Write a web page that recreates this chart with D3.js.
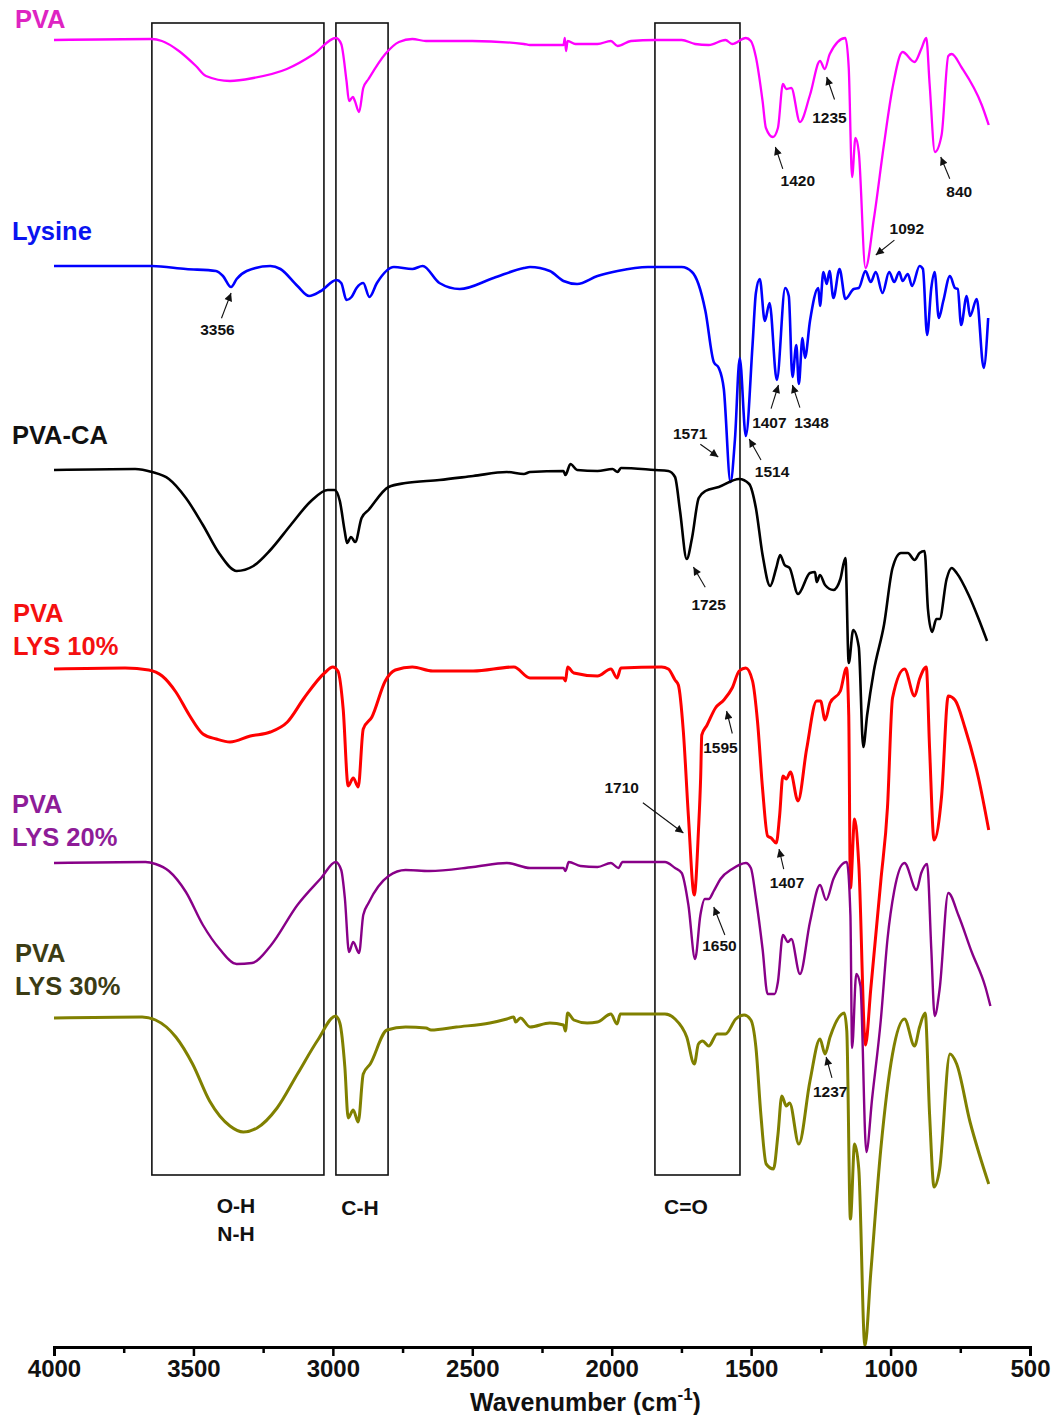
<!DOCTYPE html>
<html>
<head>
<meta charset="utf-8">
<script src="https://cdn.jsdelivr.net/npm/d3@7"></script>
<style>
  html, body { margin: 0; padding: 0; background: #fff; }
  svg { display: block; font-family: "Liberation Sans", Arial, sans-serif; }
</style>
</head>
<body>
<svg id="chart" width="1059" height="1415"></svg>
<script>
// FTIR spectra, stacked: [wavenumber (cm-1), offset transmittance (a.u.)]
const pva = [[4000,1307],[3649,1308],[3613,1306],[3552,1296],[3491,1281],[3455,1271],[3369,1266],[3285,1269],[3165,1278],[3068,1293],[2989,1309],[2970,1303],[2951,1266],[2942,1246],[2928,1250],[2921,1246],[2906,1235],[2891,1259],[2872,1268],[2812,1293],[2763,1305],[2715,1308],[2666,1306],[2500,1306],[2315,1303],[2293,1302],[2173,1302],[2168,1309],[2164,1296],[2158,1306],[2130,1303],[2051,1303],[2003,1306],[1979,1301],[1931,1306],[1846,1307],[1749,1307],[1701,1303],[1652,1302],[1592,1307],[1568,1303],[1519,1309],[1501,1306],[1483,1290],[1459,1246],[1447,1219],[1422,1210],[1404,1219],[1386,1263],[1374,1258],[1356,1259],[1325,1225],[1289,1252],[1253,1286],[1236,1278],[1218,1293],[1162,1309],[1150,1279],[1138,1170],[1126,1209],[1114,1195],[1090,1079],[1060,1128],[1024,1202],[993,1259],[957,1295],[914,1285],[890,1298],[872,1309],[860,1263],[841,1195],[817,1212],[793,1291],[781,1293],[744,1279],[673,1242],[648,1222]];

const lysine = [[4000,1081],[3649,1081],[3527,1078],[3419,1076],[3394,1071],[3365,1060],[3345,1068],[3309,1076],[3224,1081],[3188,1078],[3127,1061],[3085,1051],[3043,1056],[2987,1067],[2970,1064],[2951,1047],[2933,1050],[2915,1059],[2891,1064],[2869,1050],[2842,1064],[2781,1080],[2715,1078],[2678,1081],[2618,1064],[2545,1058],[2424,1069],[2315,1079],[2293,1080],[2222,1076],[2173,1066],[2124,1063],[2051,1071],[1979,1076],[1870,1080],[1749,1080],[1712,1075],[1689,1063],[1664,1036],[1634,985],[1616,979],[1598,958],[1574,865],[1558,908],[1541,989],[1519,911],[1495,1002],[1483,1054],[1469,1068],[1451,1026],[1434,1044],[1408,967],[1378,1059],[1365,1051],[1352,970],[1338,1002],[1329,963],[1316,1009],[1307,989],[1289,1026],[1259,1059],[1253,1041],[1241,1075],[1229,1063],[1219,1076],[1205,1049],[1183,1078],[1162,1048],[1132,1058],[1114,1059],[1090,1076],[1071,1065],[1053,1075],[1029,1054],[1005,1075],[987,1065],[969,1075],[957,1066],[938,1073],[923,1061],[896,1081],[884,1078],[869,1012],[854,1059],[842,1075],[827,1029],[811,1046],[787,1071],[769,1059],[759,1058],[747,1022],[727,1051],[715,1031],[691,1048],[666,979],[650,1029]];

const pvaCa = [[4000,877],[3709,878],[3649,875],[3588,868],[3527,849],[3466,822],[3406,793],[3345,776],[3285,781],[3224,797],[3151,822],[3078,846],[3018,857],[2994,857],[2975,846],[2957,815],[2949,804],[2935,810],[2920,805],[2897,829],[2872,837],[2800,860],[2739,864],[2618,867],[2497,871],[2376,875],[2315,873],[2293,875],[2173,876],[2166,872],[2148,883],[2124,877],[2051,876],[1997,878],[1979,875],[1967,879],[1846,877],[1797,876],[1773,870],[1755,836],[1731,788],[1712,809],[1688,849],[1664,856],[1616,860],[1543,868],[1507,863],[1483,839],[1459,792],[1432,761],[1410,779],[1396,792],[1380,782],[1362,779],[1332,753],[1289,774],[1271,775],[1265,765],[1253,772],[1235,762],[1205,757],[1180,768],[1162,789],[1150,684],[1134,717],[1114,700],[1098,600],[1084,632],[1060,676],[1023,723],[993,779],[963,794],[938,794],[914,787],[896,794],[878,796],[866,738],[851,715],[836,728],[824,728],[799,768],[781,779],[763,774],[720,752],[684,728],[654,706]];

const lys10 = [[4000,678],[3745,679],[3660,677],[3612,671],[3563,655],[3515,632],[3466,613],[3418,608],[3369,605],[3296,611],[3224,615],[3163,625],[3103,649],[3030,674],[3000,680],[2982,676],[2963,638],[2945,561],[2927,569],[2909,560],[2891,618],[2860,630],[2812,666],[2776,677],[2715,680],[2642,676],[2497,676],[2351,680],[2293,669],[2173,669],[2166,666],[2158,680],[2136,674],[2051,671],[2003,678],[1981,669],[1967,679],[1821,680],[1797,678],[1773,667],[1761,662],[1743,615],[1725,531],[1704,452],[1689,516],[1681,570],[1677,612],[1658,622],[1628,639],[1598,647],[1568,659],[1543,676],[1519,679],[1495,666],[1477,625],[1459,558],[1441,511],[1428,509],[1410,504],[1398,531],[1386,571],[1374,568],[1359,575],[1332,546],[1301,598],[1265,646],[1251,646],[1235,627],[1217,644],[1180,656],[1158,679],[1150,632],[1144,459],[1129,528],[1114,483],[1090,302],[1071,358],[1035,466],[1011,540],[993,649],[950,678],[914,651],[896,668],[872,680],[860,598],[844,507],[817,551],[793,651],[769,647],[733,619],[684,568],[648,517]];

const lys20 = [[4000,484],[3672,485],[3636,483],[3588,476],[3527,455],[3466,422],[3406,398],[3345,383],[3290,384],[3224,401],[3127,442],[3042,469],[2990,485],[2970,477],[2957,449],[2942,395],[2927,405],[2906,394],[2891,432],[2872,444],[2800,471],[2739,477],[2654,476],[2497,480],[2376,484],[2293,479],[2173,479],[2166,476],[2154,485],[2112,481],[2051,480],[2003,484],[1976,479],[1961,485],[1809,485],[1773,479],[1749,474],[1725,442],[1701,388],[1682,432],[1666,448],[1652,448],[1634,456],[1610,468],[1568,478],[1519,484],[1501,479],[1483,449],[1459,398],[1441,353],[1416,353],[1404,365],[1386,412],[1368,405],[1356,408],[1325,373],[1289,425],[1253,462],[1231,447],[1205,468],[1157,485],[1144,432],[1138,299],[1123,373],[1108,361],[1087,195],[1066,249],[1035,327],[1011,408],[987,456],[950,484],[907,457],[890,474],[869,483],[854,398],[842,331],[824,358],[793,454],[757,432],[709,395],[660,360],[642,341]];

const lys30 = [[4000,329],[3684,330],[3636,327],[3563,310],[3503,283],[3442,246],[3369,221],[3321,215],[3272,219],[3200,239],[3127,273],[3054,307],[2990,331],[2975,324],[2957,280],[2945,229],[2927,237],[2909,225],[2891,273],[2866,283],[2806,317],[2739,320],[2666,319],[2648,317],[2557,320],[2437,324],[2376,328],[2351,330],[2345,325],[2327,329],[2293,320],[2222,324],[2173,322],[2166,316],[2158,334],[2136,327],[2088,324],[2051,325],[2003,333],[1981,323],[1969,333],[1809,333],[1773,328],[1731,310],[1704,283],[1689,303],[1674,306],[1652,301],[1622,313],[1592,313],[1555,328],[1525,332],[1501,327],[1483,300],[1465,232],[1446,183],[1420,178],[1404,212],[1390,251],[1374,241],[1362,244],[1329,203],[1289,266],[1253,308],[1235,293],[1217,310],[1166,334],[1157,316],[1144,128],[1129,203],[1114,178],[1092,1],[1071,74],[1035,198],[993,293],[950,328],[914,301],[896,320],[876,334],[860,232],[844,160],[824,178],[787,293],[763,283],[715,225],[681,192],[648,163]];

const seriesData = [pva, lysine, pvaCa, lys10, lys20, lys30];
const seriesNames = [["PVA"], ["Lysine"], ["PVA-CA"], ["PVA", "LYS 10%"], ["PVA", "LYS 20%"], ["PVA", "LYS 30%"]];

// Band assignment regions: [high wavenumber, low wavenumber]
const bandRanges = [[3649, 3032], [2989, 2802], [1845, 1540]];
const bandNames = [["O-H", "N-H"], ["C-H"], ["C=O"]];

// Peak annotations: label, arrow tip [wavenumber, a.u.]
const peakLabels = ["1420", "1235", "840", "1092", "3356", "1571", "1514", "1407", "1348", "1725", "1595", "1710", "1407", "1650", "1237"];
const peakTips = [[1413,1200],[1229,1270],[820,1190],[1053,1092],[3365,1054],[1618,890],[1507,908],[1402,962],[1352,962],[1707,780],[1588,636],[1743,514],[1400,498],[1634,440],[1231,290]];

const xTicks = [4000, 3500, 3000, 2500, 2000, 1500, 1000, 500];
const xMinorTicks = [3750, 3250, 2750, 2250, 1750, 1250, 750];

// ---- styling / layout ----
const lineColors = ["#ff00ff", "#0000ff", "#000000", "#ff0000", "#880088", "#808000"];
const labelColors = ["#de24c2", "#0a14f0", "#111111", "#f41010", "#8e1c98", "#3c3c14"];
const lineWidths = [2.3, 2.6, 2.6, 3, 2.4, 3];
const nameAnchors = [[15, 28], [12, 240], [12, 444], [13, 622], [12, 813], [15, 962]];
const bandLabelX = [236, 360, 686];
const bandLabelY = [1213, 1215, 1214];
const peakOffsets = [
  [7.4, 21.9, 22.4, 33.7], [7.8, 22.5, 2.7, 40], [9, 21.8, 18.5, 34.6], [18.6, -14.9, 31, -26.7],
  [-9.6, 25.3, -13.6, 36.5], [-17.9, -12.8, -28, -23.6], [11.8, 20.9, 22.9, 32.8], [-7.4, 23.7, -9.1, 37.1],
  [7.5, 22.6, 19.2, 37.2], [11.8, 20.2, 15.2, 37.1], [5.7, 22.5, -6.1, 36.7], [-40.5, -30.3, -61.7, -45.5],
  [4.7, 20.2, 8, 33], [11.1, 28, 5.7, 38.8], [5.8, 20.8, 4.1, 34.3]
];

const svg = d3.select("#chart");
const x = d3.scaleLinear().domain([4000, 500]).range([54, 1030]);
const y = d3.scaleLinear().domain([0, 1347]).range([1347, 0]);

svg.append("rect").attr("width", 1059).attr("height", 1415).attr("fill", "#fff");

// Band boxes
const boxTop = 1324, boxBottom = 172;
const boxes = svg.append("g");
bandRanges.forEach((r, i) => {
  boxes.append("rect")
    .attr("x", x(r[0])).attr("y", y(boxTop))
    .attr("width", x(r[1]) - x(r[0])).attr("height", y(boxBottom) - y(boxTop))
    .attr("fill", "none").attr("stroke", "#111").attr("stroke-width", 1.6);
  bandNames[i].forEach((t, j) => {
    boxes.append("text")
      .attr("x", bandLabelX[i]).attr("y", bandLabelY[i] + j * 28)
      .attr("text-anchor", "middle")
      .attr("font-size", 21).attr("font-weight", "bold").attr("fill", "#111")
      .text(t);
  });
});

// Spectra
const line = d3.line()
  .x(d => x(d[0]))
  .y(d => y(d[1]))
  .curve(d3.curveMonotoneX);

svg.append("g").selectAll("path")
  .data(seriesData)
  .join("path")
  .attr("d", line)
  .attr("fill", "none")
  .attr("stroke", (d, i) => lineColors[i])
  .attr("stroke-width", (d, i) => lineWidths[i])
  .attr("stroke-linejoin", "round");

// Series names
seriesNames.forEach((lines, i) => {
  lines.forEach((t, j) => {
    svg.append("text")
      .attr("x", nameAnchors[i][0]).attr("y", nameAnchors[i][1] + j * 33)
      .attr("font-size", 25.5).attr("font-weight", "bold")
      .attr("fill", labelColors[i])
      .text(t);
  });
});

// Arrowhead
svg.append("defs").append("marker")
  .attr("id", "arrowhead")
  .attr("viewBox", "0 0 10 10")
  .attr("refX", 10).attr("refY", 5)
  .attr("markerWidth", 9).attr("markerHeight", 8)
  .attr("markerUnits", "userSpaceOnUse")
  .attr("orient", "auto")
  .append("path").attr("d", "M0,0 L10,5 L0,10 Z").attr("fill", "#111");

// Peak annotations
const ann = svg.append("g");
peakLabels.forEach((t, i) => {
  const tx = x(peakTips[i][0]), ty = y(peakTips[i][1]);
  const o = peakOffsets[i];
  ann.append("line")
    .attr("x1", tx + o[0]).attr("y1", ty + o[1])
    .attr("x2", tx).attr("y2", ty)
    .attr("stroke", "#111").attr("stroke-width", 1.1)
    .attr("marker-end", "url(#arrowhead)");
  ann.append("text")
    .attr("x", tx + o[2]).attr("y", ty + o[3])
    .attr("dy", "0.36em")
    .attr("text-anchor", "middle")
    .attr("font-size", 15.5).attr("font-weight", "bold").attr("fill", "#111")
    .text(t);
});

// X axis
const axisY = y(0);
const gx = svg.append("g").attr("transform", `translate(0,${axisY})`)
  .call(d3.axisBottom(x).tickValues(xTicks).tickSize(9).tickPadding(4).tickFormat(d3.format("d")));
gx.select(".domain").attr("stroke", "#000").attr("stroke-width", 3);
gx.selectAll(".tick line").attr("stroke", "#000").attr("stroke-width", 2.5);
gx.selectAll(".tick text")
  .attr("font-size", 24).attr("font-weight", "bold").attr("fill", "#111")
  .attr("font-family", "'Liberation Sans', Arial, sans-serif");

const gm = svg.append("g").attr("transform", `translate(0,${axisY})`)
  .call(d3.axisBottom(x).tickValues(xMinorTicks).tickSize(6).tickFormat(""));
gm.select(".domain").remove();
gm.selectAll(".tick line").attr("stroke", "#000").attr("stroke-width", 2.5);

// Axis title
const title = svg.append("text")
  .attr("x", 470).attr("y", 1411)
  .attr("font-size", 25).attr("font-weight", "bold").attr("fill", "#111");
title.append("tspan").text("Wavenumber (cm");
title.append("tspan").attr("dy", -11).attr("font-size", 17).text("-1");
title.append("tspan").attr("dy", 11).text(")");
</script>
</body>
</html>
